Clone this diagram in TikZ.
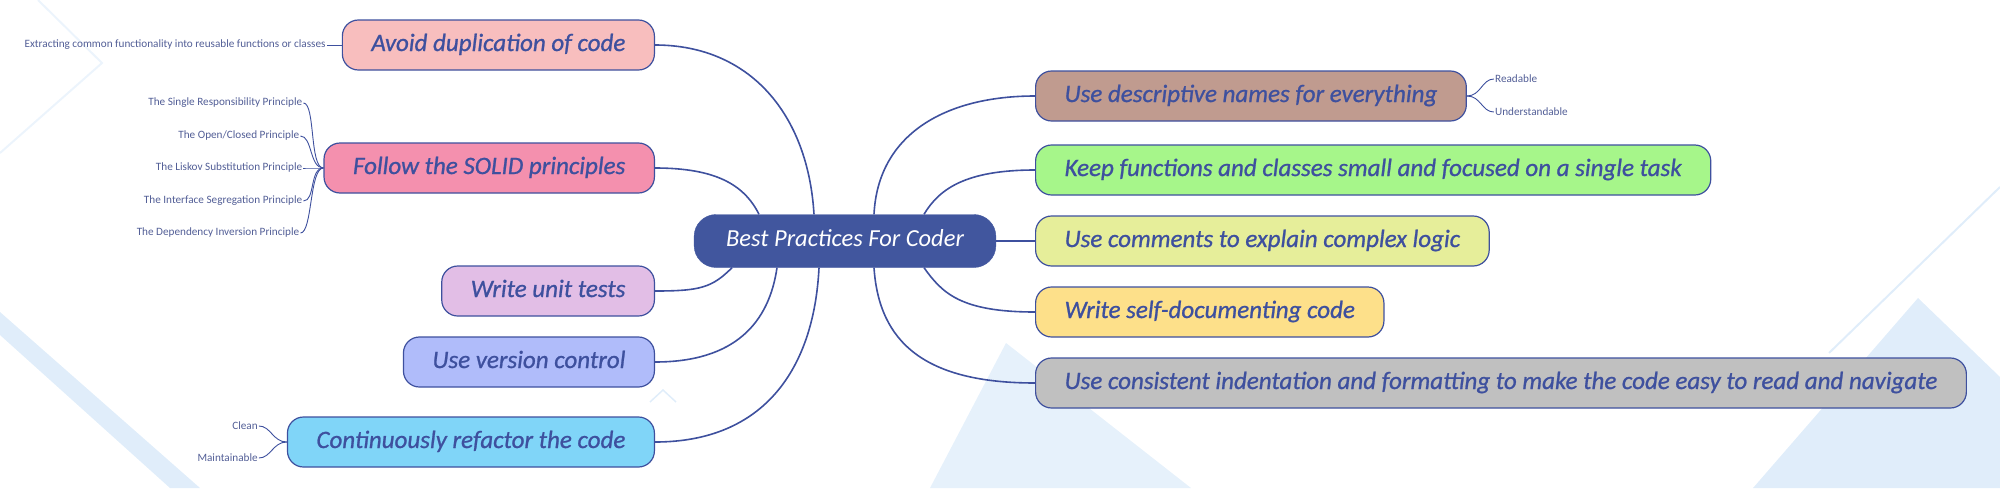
\documentclass[tikz,border=0pt]{standalone}
\usepackage{fontspec}
\setmainfont{Carlito}
\newfontfamily\topicfont{Carlito}[FakeBold=0.9]
\usetikzlibrary{shapes,arrows}
\usetikzlibrary{positioning}
\definecolor{ink}{RGB}{62,80,158}
\definecolor{leafink}{RGB}{82,94,150}
\definecolor{corefill}{RGB}{65,86,158}
\definecolor{bgblue}{RGB}{224,237,250}
\definecolor{cavoid}{RGB}{248,190,190}
\definecolor{csolid}{RGB}{244,144,174}
\definecolor{cunit}{RGB}{226,190,230}
\definecolor{cversion}{RGB}{176,188,250}
\definecolor{crefactor}{RGB}{128,213,248}
\definecolor{cnames}{RGB}{192,155,143}
\definecolor{csmall}{RGB}{166,246,138}
\definecolor{ccomments}{RGB}{230,238,154}
\definecolor{cselfdoc}{RGB}{253,224,138}
\definecolor{cindent}{RGB}{192,192,192}
\tikzstyle{core} = [rectangle, rounded corners=22pt, fill=corefill, draw=corefill, text=white, font=\fontsize{24.5}{28}\selectfont\itshape, minimum height=53pt, inner xsep=32pt, text height=16pt, text depth=5pt]
\tikzstyle{topic} = [rectangle, rounded corners=16pt, draw=ink, line width=1.2pt, text=ink, font=\topicfont\fontsize{25}{29}\selectfont\itshape, minimum height=50pt, inner xsep=29pt, text height=17pt, text depth=5pt]
\tikzstyle{leaf} = [text=leafink, font=\fontsize{11.2}{13}\selectfont, inner sep=1pt]
\tikzstyle{line} = [draw=ink, line width=1.6pt]
\tikzstyle{twig} = [draw=ink, line width=0.9pt]

\begin{document}
\begin{tikzpicture}[x=1pt, y=-1pt]
\useasboundingbox (0,0) rectangle (2000,488);
% Background
\fill[bgblue] (0,312) -- (0,335) -- (170,488) -- (200,488) -- cycle;
\fill[bgblue!80] (1006,343) -- (1191,488) -- (930,488) -- cycle;
\fill[bgblue] (1918,298) -- (1753,488) -- (2000,488) -- (2000,377) -- cycle;
\draw[bgblue, line width=2pt] (2000,187) -- (1829,353);
\draw[bgblue!60, line width=2pt] (38,0) -- (102,63) -- (0,153);
\draw[bgblue, line width=1.5pt] (650,402) -- (663,390) -- (676,402);

% Place nodes
\node [core] (core) at (845,241) {Best Practices For Coder};

\node [topic, fill=cavoid, anchor=east] (avoid) at (655,45) {Avoid duplication of code};
\node [topic, fill=csolid, anchor=east] (solid) at (655,168) {Follow the SOLID principles};
\node [topic, fill=cunit, anchor=east] (unit) at (655,291) {Write unit tests};
\node [topic, fill=cversion, anchor=east] (version) at (655,362) {Use version control};
\node [topic, fill=crefactor, anchor=east] (refactor) at (655,442) {Continuously refactor the code};

\node [topic, fill=cnames, anchor=west] (names) at (1035,96) {Use descriptive names for everything};
\node [topic, fill=csmall, anchor=west] (small) at (1035,170) {Keep functions and classes small and focused on a single task};
\node [topic, fill=ccomments, anchor=west] (comments) at (1035,241) {Use comments to explain complex logic};
\node [topic, fill=cselfdoc, anchor=west] (selfdoc) at (1035,312) {Write self-documenting code};
\node [topic, fill=cindent, anchor=west] (indent) at (1035,383) {Use consistent indentation and formatting to make the code easy to read and navigate};

\node [leaf, left=15pt of avoid] (extract) {Extracting common functionality into reusable functions or classes};
\node [leaf, anchor=east] (srp) at ([xshift=-20pt, yshift=65pt]solid.west) {The Single Responsibility Principle};
\node [leaf, anchor=east] (ocp) at ([xshift=-23pt, yshift=32pt]solid.west) {The Open/Closed Principle};
\node [leaf, anchor=east] (lsp) at ([xshift=-20pt]solid.west) {The Liskov Substitution Principle};
\node [leaf, anchor=east] (isp) at ([xshift=-20pt, yshift=-33pt]solid.west) {The Interface Segregation Principle};
\node [leaf, anchor=east] (dip) at ([xshift=-23pt, yshift=-65pt]solid.west) {The Dependency Inversion Principle};
\node [leaf, anchor=east] (clean) at ([xshift=-28pt, yshift=16pt]refactor.west) {Clean};
\node [leaf, anchor=east] (maint) at ([xshift=-28pt, yshift=-16pt]refactor.west) {Maintainable};
\node [leaf, anchor=west] (readable) at ([xshift=27pt, yshift=17pt]names.east) {Readable};
\node [leaf, anchor=west] (underst) at ([xshift=27pt, yshift=-16pt]names.east) {Understandable};

% Draw edges
\path [line] (avoid.east) .. controls +(95,0) and +(-6,-100) .. ([xshift=-31pt]core.north);
\path [line] (solid.east) .. controls +(60,0) and +(-15,-30) .. ([xshift=-86pt]core.north);
\path [line] (unit.east) .. controls +(45,0) and +(-20,20) .. ([xshift=-113pt]core.south);
\path [line] (version.east) .. controls +(80,0) and +(-8,55) .. ([xshift=-68pt]core.south);
\path [line] (refactor.east) .. controls +(110,0) and +(-5,100) .. ([xshift=-26pt]core.south);
\path [line] (names.west) .. controls +(-90,0) and +(4,-80) .. ([xshift=29pt]core.north);
\path [line] (small.west) .. controls +(-70,0) and +(15,-25) .. ([xshift=79pt]core.north);
\path [line] (core.east) -- (comments.west);
\path [line] (selfdoc.west) .. controls +(-75,0) and +(18,25) .. ([xshift=79pt]core.south);
\path [line] (indent.west) .. controls +(-110,0) and +(5,75) .. ([xshift=29pt]core.south);

\path [twig] (extract.east) -- (avoid.west);
\foreach \p in {srp,ocp,lsp,isp,dip}
  \path [twig] (\p.east) .. controls +(12,0) and +(-14,0) .. (solid.west);
\foreach \p in {clean,maint}
  \path [twig] (\p.east) .. controls +(12,0) and +(-14,0) .. (refactor.west);
\foreach \p in {readable,underst}
  \path [twig] (\p.west) .. controls +(-12,0) and +(14,0) .. (names.east);

\end{tikzpicture}
\end{document}
